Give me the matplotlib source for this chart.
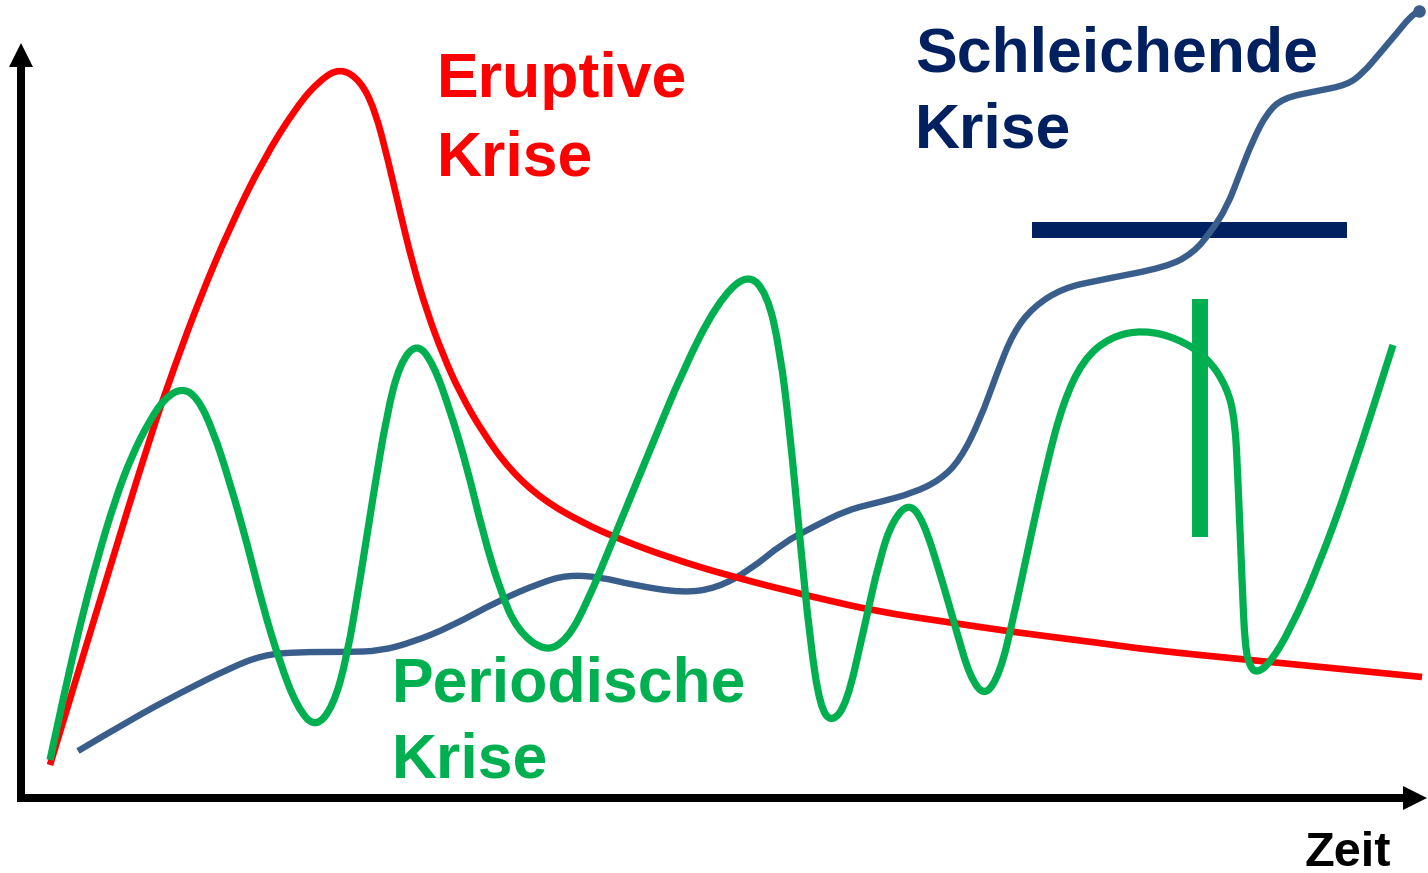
import matplotlib
matplotlib.use('Agg')
from matplotlib import pyplot as plt
from matplotlib.path import Path
from matplotlib.patches import PathPatch, FancyArrow

# Curve points (pixel coords, y downwards)
eruptive_x = [50, 100, 150, 175, 200, 230, 263, 297, 320, 340, 360, 375, 388, 400, 413, 427,
              443, 460, 483, 510, 543, 583, 617, 667, 733, 817, 880, 947, 1013, 1100, 1150,
              1250, 1422]
eruptive_y = [765, 600, 437, 365, 298, 227, 160, 106, 80, 68, 80, 110, 160, 212, 265, 312,
              355, 393, 433, 470, 500, 523, 538, 557, 577, 598, 612, 622, 632, 643, 650,
              660, 677]

periodic_x = [50, 65, 80, 97, 115, 132, 150, 165, 182, 197, 213, 230, 247, 263, 280, 297, 315,
              333, 347, 360, 373, 387, 400, 417, 433, 450, 467, 483, 500, 517, 545, 567, 587,
              613, 650, 683, 717, 747, 767, 780, 790, 800, 810, 820, 832, 847, 863, 880, 893,
              909, 923, 940, 957, 970, 985, 1000, 1013, 1030, 1047, 1063, 1083, 1110, 1143,
              1177, 1207, 1227, 1235, 1238, 1242, 1245, 1250, 1257, 1270, 1290, 1317, 1350, 1393]
periodic_y = [760, 690, 625, 560, 500, 455, 420, 398, 388, 397, 430, 483, 543, 607, 663, 707, 728,
              707, 657, 580, 497, 413, 363, 343, 363, 410, 467, 533, 590, 630, 652, 640, 603,
              540, 450, 370, 303, 273, 293, 350, 433, 540, 640, 707, 723, 703, 633, 557, 520,
              503, 520, 573, 633, 677, 697, 673, 620, 540, 463, 403, 360, 337, 330,
              338, 357, 387, 420, 480, 580, 647, 667, 673, 663, 630, 570, 480, 345]

creeping_x = [78, 130, 180, 230, 263, 297, 347, 380, 413, 450, 500, 540, 567, 600, 633, 683,
              717, 750, 783, 813, 847, 880, 913, 940, 960, 980, 997, 1013, 1033, 1063, 1100,
              1167, 1193, 1210, 1227, 1240, 1253, 1267, 1283, 1317, 1347, 1363, 1380, 1397,
              1410, 1419]
creeping_y = [751, 720, 693, 668, 655, 652, 652, 651, 642, 627, 600, 583, 575, 577, 585, 593,
              588, 570, 543, 527, 510, 502, 493, 480, 460, 420, 373, 333, 307, 288, 280,
              267, 253, 233, 207, 173, 140, 113, 98, 91, 85, 73, 53, 33, 17, 11]

threshold_x = [1032, 1347]
threshold_y = 230
marker_x = 1200
marker_y = [299, 537]

RED = '#FF0000'
GREEN = '#00B050'
BLUE = '#3A5E8C'
NAVY = '#002060'


def smooth_path(xs, ys):
    # quadratic bezier through midpoints, read points act as control points
    pts = list(zip(xs, ys))
    verts = [pts[0]]
    codes = [Path.MOVETO]
    for i in range(1, len(pts) - 1):
        mid = ((pts[i][0] + pts[i + 1][0]) / 2, (pts[i][1] + pts[i + 1][1]) / 2)
        verts += [pts[i], mid]
        codes += [Path.CURVE3, Path.CURVE3]
    verts.append(pts[-1])
    codes.append(Path.LINETO)
    return Path(verts, codes)


fig = plt.figure(figsize=(14.28, 8.73), dpi=100)
ax = fig.add_axes([0, 0, 1, 1])
ax.set_xlim(0, 1428)
ax.set_ylim(873, 0)
ax.axis('off')

# axes arrows
ax.add_patch(FancyArrow(21, 802, 0, -759, width=8, head_width=24, head_length=24,
                        length_includes_head=True, color='black', lw=0))
ax.add_patch(FancyArrow(17, 798, 1410, 0, width=8, head_width=24, head_length=24,
                        length_includes_head=True, color='black', lw=0))

ax.plot(threshold_x, [threshold_y] * 2, color=NAVY, lw=11.5, solid_capstyle='butt', zorder=1)
ax.plot([marker_x] * 2, marker_y, color=GREEN, lw=11.5, solid_capstyle='butt', zorder=1)

for xs, ys, color, lw, z in [(creeping_x, creeping_y, BLUE, 4.6, 2),
                             (eruptive_x, eruptive_y, RED, 4.8, 3),
                             (periodic_x, periodic_y, GREEN, 5.2, 4)]:
    ax.add_patch(PathPatch(smooth_path(xs, ys), fill=False, edgecolor=color, lw=lw,
                           capstyle='butt', joinstyle='round', zorder=z))

# small rounded knob at the end of the creeping curve
ax.plot(creeping_x[-1:], creeping_y[-1:], 'o', color=BLUE, ms=8, zorder=2)

font = dict(family='Liberation Sans', weight='bold', fontsize=45, va='baseline', ha='left')
ax.text(437, 97, 'Eruptive', color=RED, **font)
ax.text(437, 175, 'Krise', color=RED, **font)
ax.text(915, 71, 'Schleichende', color=NAVY, **font)
ax.text(915, 147, 'Krise', color=NAVY, **font)
ax.text(392, 702, 'Periodische', color=GREEN, **font)
ax.text(392, 778, 'Krise', color=GREEN, **font)
ax.text(1305, 866, 'Zeit', color='black', family='Liberation Sans', weight='bold',
        fontsize=35, va='baseline', ha='left')

fig.savefig('out.png', dpi=100)
